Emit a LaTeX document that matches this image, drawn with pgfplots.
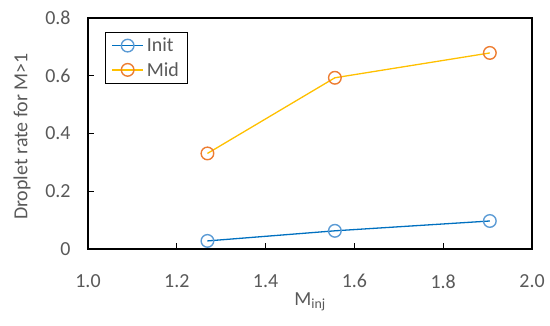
\documentclass[border=0pt]{standalone}
\usepackage{pgfplots}
\pgfplotsset{compat=1.18}
\usepackage{fontspec}
\setmainfont{Carlito}
\definecolor{txt}{HTML}{595959}
\definecolor{initline}{HTML}{0070C0}
\definecolor{initmark}{HTML}{5B9BD5}
\definecolor{midline}{HTML}{FFC000}
\definecolor{midmark}{HTML}{ED7D31}
\begin{document}
\begin{tikzpicture}[x=1bp,y=1bp]
\path[use as bounding box] (-88,-76) rectangle (462,249);
\begin{axis}[
  at={(0,0)}, anchor=south west,
  scale only axis, width=444bp, height=231bp,
  xmin=1, xmax=2, ymin=0, ymax=0.8,
  xtick={1,1.2,...,2.01}, ytick={0,0.2,0.4,0.6,0.8},
  xticklabels={1.0,1.2,1.4,1.6,1.8,2.0},
  yticklabels={0,0.2,0.4,0.6,0.8},
  tick align=inside, tick pos=left,
  major tick length=6bp,
  tick style={black, line width=1.2bp},
  axis line style={black, line width=1.3bp},
  ticklabel style={font=\fontsize{20}{24}\selectfont, text=txt},
  xticklabel style={yshift=-22bp},
  yticklabel style={xshift=-14bp},
  xlabel={M\textsubscript{inj}},
  ylabel={Droplet rate for M>1},
  label style={font=\fontsize{20}{24}\selectfont, text=txt},
  xlabel style={at={(axis description cs:0.5,0)}, anchor=center, yshift=-53bp},
  ylabel style={at={(axis description cs:0,0.5)}, anchor=center, yshift=66bp, xshift=-3bp},
  legend style={at={(17bp,217bp)}, anchor=north west, draw=black, line width=1bp,
    font=\fontsize{20}{24}\selectfont, text=txt, inner xsep=6bp, inner ysep=3bp,
    nodes={inner xsep=3bp, inner ysep=2.5bp}, row sep=4bp},
  legend cell align=left,
  legend image code/.code={
    \draw[#1] (0bp,0bp) -- (31bp,0bp);
    \draw[#1,mark repeat=1] plot coordinates {(15.5bp,0bp)};
  },
  clip=false,
]
\addplot[color=initline, line width=1.3bp, mark=o, mark size=6.3bp,
  mark options={draw=initmark, fill=white, line width=1.4bp}]
  coordinates {(1.269,0.028) (1.556,0.063) (1.905,0.097)};
\addlegendentry{Init}
\addplot[color=midline, line width=1.3bp, mark=o, mark size=6.3bp,
  mark options={draw=midmark, fill=white, line width=1.4bp}]
  coordinates {(1.269,0.331) (1.556,0.593) (1.905,0.679)};
\addlegendentry{Mid}
\end{axis}
\end{tikzpicture}
\end{document}
